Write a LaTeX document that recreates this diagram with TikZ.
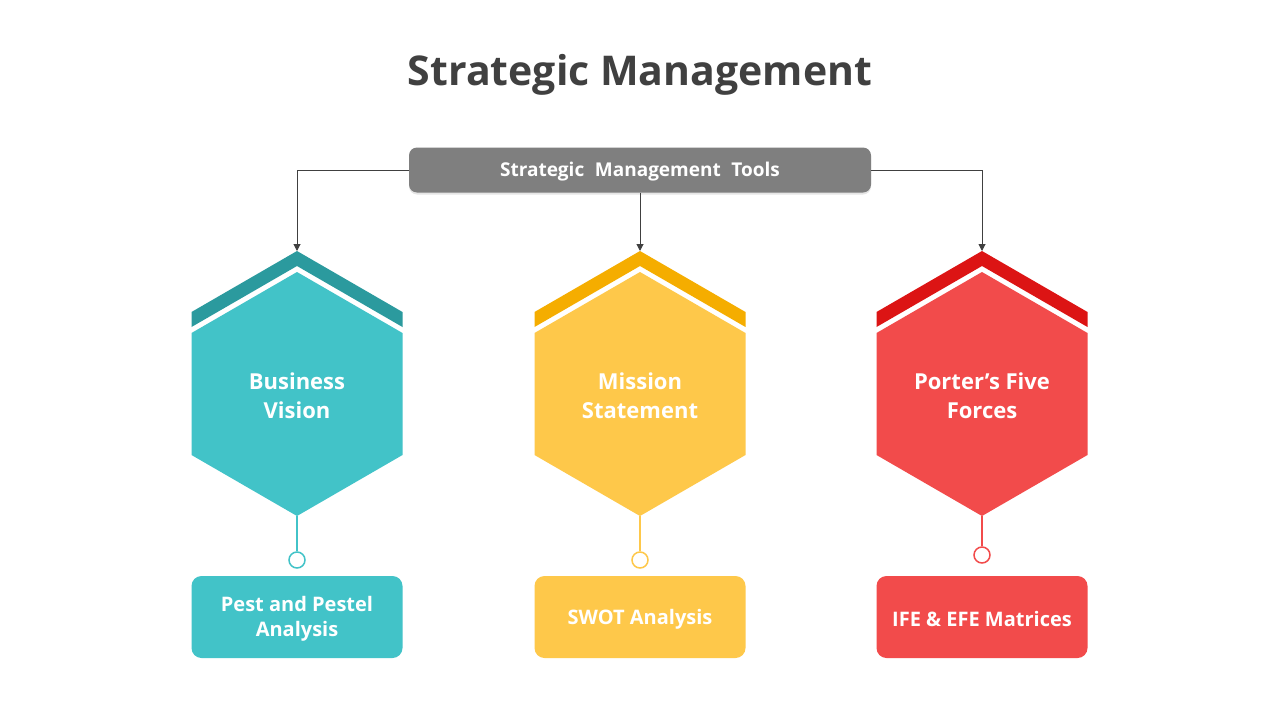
\documentclass[tikz,border=0pt]{standalone}
\usepackage{fontspec}
\setmainfont{Open Sans}
\usepackage{tikz}
\usetikzlibrary{arrows.meta,shadows}
\usepackage{xcolor}

\definecolor{titlegray}{HTML}{404040}
\definecolor{toolgray}{HTML}{7F7F7F}
\definecolor{tealhex}{HTML}{42C3C8}
\definecolor{tealcap}{HTML}{2B9A9E}
\definecolor{yellowhex}{HTML}{FEC84A}
\definecolor{yellowcap}{HTML}{F5AD00}
\definecolor{redhex}{HTML}{F24B4B}
\definecolor{redcap}{HTML}{DC1414}

\tikzset{
    conn/.style={draw=titlegray, line width=1pt, -{Triangle[length=7pt,width=7pt]}},
    hexlabel/.style={text=white, font=\bfseries\fontsize{22}{29}\selectfont, align=center},
    toolbox/.style={fill=toolgray, rounded corners=8pt, minimum width=462pt, minimum height=45pt,
        text=white, font=\bfseries\fontsize{19}{22}\selectfont, inner sep=0pt,
        drop shadow={opacity=0.2, shadow xshift=0pt, shadow yshift=-2pt}},
    resultbox/.style={rounded corners=10pt, minimum width=211pt, minimum height=82pt, inner sep=0pt},
    resultlabel/.style={text=white, font=\bfseries\fontsize{20}{25}\selectfont, align=center},
    dotnode/.style={circle, minimum size=16pt, inner sep=0pt, line width=1.5pt, fill=white}
}

\begin{document}
\begin{tikzpicture}[x=1pt, y=-1pt]
    \useasboundingbox[fill=white] (0,0) rectangle (1280,720);

    \node[font=\bfseries\fontsize{41}{48}\selectfont, text=titlegray] (title) at (640,75) {Strategic Management};
    \node[toolbox] (tools) at (640,170) {};
    \node[text=white, font=\bfseries\fontsize{19}{22}\selectfont] (toolstext) at (640,172)
        {Strategic\hspace{0.3em} Management\hspace{0.3em} Tools};

    \foreach \i/\cx/\hexcol/\capcol/\dy/\toptext/\bottext in {
        1/297/tealhex/tealcap/560/{Business\\Vision}/{Pest and Pestel\\Analysis},
        2/640/yellowhex/yellowcap/560/{Mission\\Statement}/{SWOT Analysis},
        3/982/redhex/redcap/555/{Porter’s Five\\Forces}/{IFE \& EFE Matrices}} {
        \fill[\capcol] (\cx-105.5,312) -- (\cx,251) -- (\cx+105.5,312) -- (\cx+105.5,327)
            -- (\cx,266) -- (\cx-105.5,327) -- cycle;
        \fill[\hexcol] (\cx,272) -- (\cx+105.5,333) -- (\cx+105.5,455) -- (\cx,516)
            -- (\cx-105.5,455) -- (\cx-105.5,333) -- cycle;
        \coordinate (top\i) at (\cx,251);
        \coordinate (bot\i) at (\cx,516);
        \node[hexlabel] (hex\i) at (\cx,396) {\toptext};
        \node[dotnode, draw=\hexcol] (dot\i) at (\cx,\dy) {};
        \draw[\hexcol, line width=1.5pt] (bot\i) -- (dot\i);
        \node[resultbox, fill=\hexcol] (box\i) at (\cx,617) {};
        \node[resultlabel] (boxtext\i) at (\cx,619) {\bottext};
    }

    \draw[conn] (tools.west) -| (top1);
    \draw[conn] (tools.south) -- (top2);
    \draw[conn] (tools.east) -| (top3);
\end{tikzpicture}
\end{document}
